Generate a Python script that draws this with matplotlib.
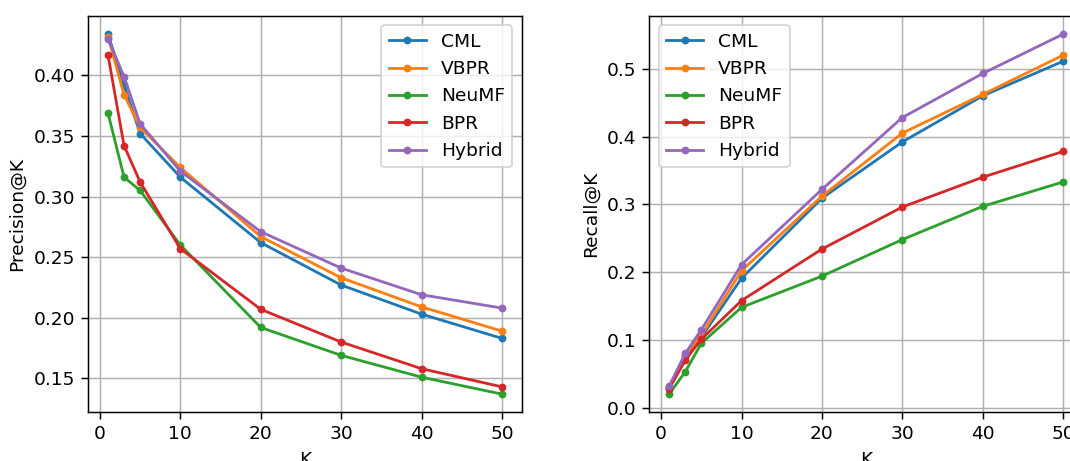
import matplotlib
matplotlib.use("Agg")
import matplotlib.pyplot as plt

k_values = [1, 3, 5, 10, 20, 30, 40, 50]
models = ["CML", "VBPR", "NeuMF", "BPR", "Hybrid"]

precision_cml = [0.434, 0.392, 0.352, 0.316, 0.262, 0.227, 0.203, 0.183]
precision_vbpr = [0.432, 0.384, 0.357, 0.324, 0.267, 0.233, 0.209, 0.189]
precision_neumf = [0.369, 0.316, 0.305, 0.260, 0.192, 0.169, 0.151, 0.137]
precision_bpr = [0.417, 0.342, 0.312, 0.257, 0.207, 0.180, 0.158, 0.143]
precision_hybrid = [0.430, 0.399, 0.360, 0.321, 0.271, 0.241, 0.219, 0.208]

recall_cml = [0.030, 0.075, 0.104, 0.191, 0.309, 0.392, 0.460, 0.511]
recall_vbpr = [0.030, 0.078, 0.107, 0.202, 0.312, 0.405, 0.462, 0.520]
recall_neumf = [0.020, 0.053, 0.095, 0.148, 0.194, 0.248, 0.297, 0.333]
recall_bpr = [0.028, 0.070, 0.101, 0.158, 0.234, 0.296, 0.340, 0.378]
recall_hybrid = [0.032, 0.080, 0.115, 0.211, 0.322, 0.428, 0.493, 0.551]

precision = [precision_cml, precision_vbpr, precision_neumf, precision_bpr, precision_hybrid]
recall = [recall_cml, recall_vbpr, recall_neumf, recall_bpr, recall_hybrid]

# the reference looks like a small figure scaled up, so draw small at a high dpi
DPI = 133.75
fig = plt.figure(figsize=(1070 / DPI, 461 / DPI), dpi=DPI)
ax1 = fig.add_axes([0.0825, 0.106, 0.405, 0.859])
ax2 = fig.add_axes([0.607, 0.106, 0.405, 0.859])

for name, vals in zip(models, precision):
    ax1.plot(k_values, vals, marker="o", markersize=3.2, label=name)
ax1.set_xlabel("K")
ax1.set_ylabel("Precision@K")
ax1.grid(True)
ax1.legend(loc="upper right")

for name, vals in zip(models, recall):
    ax2.plot(k_values, vals, marker="o", markersize=3.2, label=name)
ax2.set_xlabel("K")
ax2.set_ylabel("Recall@K")
ax2.grid(True)
ax2.legend(loc="upper left")

fig.savefig("out.png", dpi=DPI)
